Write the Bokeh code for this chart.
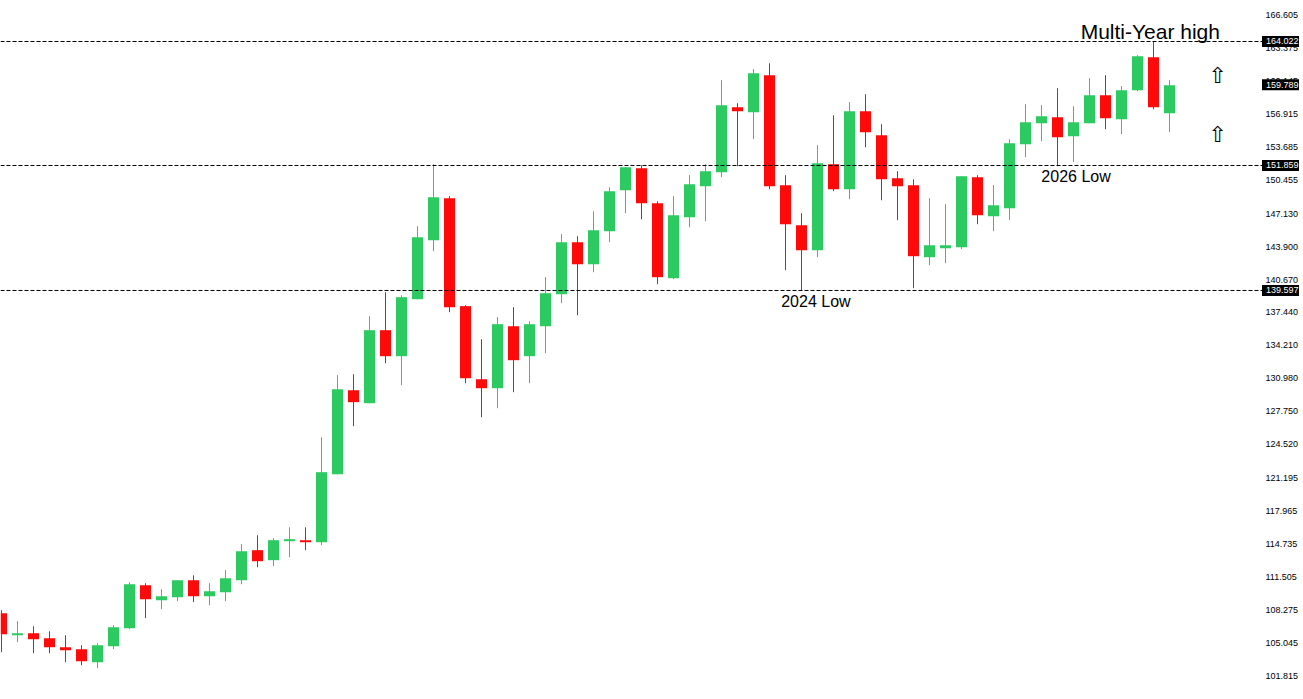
from bokeh.plotting import figure
from bokeh.models import Range1d, FixedTicker, NumeralTickFormatter, ColumnDataSource
from bokeh.core.properties import value
from bokeh.embed import file_html
from bokeh.resources import INLINE

opens = [107.94,105.78,105.98,105.49,104.60,104.41,103.13,104.70,106.46,110.68,109.21,109.51,111.17,109.61,110.00,111.17,114.12,113.14,115.00,115.10,
114.90,121.57,129.81,128.54,135.70,133.15,138.74,144.53,148.65,138.06,130.89,130.01,136.09,133.15,136.09,139.23,144.33,142.17,145.41,149.43,
151.59,148.16,140.80,146.79,149.83,151.20,157.58,157.09,160.72,149.93,146.00,143.55,151.99,149.53,157.19,154.83,150.61,149.93,142.86,143.74,
143.84,150.71,146.88,147.67,153.95,156.01,156.60,154.73,156.01,158.75,156.40,159.24,162.48,156.99]
highs = [108.23,107.15,106.66,106.17,105.78,104.80,104.99,106.76,110.98,110.88,110.29,111.17,111.66,110.88,112.16,114.71,115.59,115.30,116.37,116.37,
125.20,131.29,131.38,137.07,139.43,139.13,145.90,151.99,148.85,138.15,134.82,136.98,137.96,136.58,140.90,145.12,144.92,147.37,149.73,151.69,
151.89,148.35,148.85,150.91,151.99,160.23,157.97,161.31,161.89,150.91,147.18,153.85,156.79,158.07,158.85,155.91,151.30,150.51,148.65,148.06,
150.81,150.91,149.93,154.44,157.87,157.77,159.44,157.67,160.42,160.72,159.64,162.68,164.05,160.23]
lows = [104.11,105.09,104.01,104.01,103.13,102.84,102.54,104.41,106.37,107.45,108.33,109.11,109.02,108.72,109.11,110.78,112.45,112.55,113.43,114.12,
114.61,121.57,126.28,128.54,132.46,130.30,138.74,143.45,137.47,130.50,127.17,128.05,129.62,130.50,133.44,138.35,137.17,141.39,144.33,147.18,
146.59,140.21,140.70,145.80,146.39,150.71,151.79,154.44,149.53,141.59,139.62,142.86,149.34,148.55,153.65,148.45,146.49,139.82,142.07,142.27,
143.65,146.10,145.41,146.49,152.67,154.24,151.79,152.18,156.01,155.42,154.93,159.15,157.38,155.13]
closes = [105.87,105.98,105.39,104.60,104.31,103.23,104.80,106.56,110.78,109.31,109.61,111.17,109.61,110.10,111.37,114.02,113.04,115.10,115.20,114.90,
121.77,129.91,128.64,135.70,133.15,138.94,144.82,148.75,137.96,130.99,130.01,136.29,132.76,136.29,139.33,144.33,142.17,145.51,149.34,151.69,
148.16,140.90,146.98,150.02,151.30,157.77,157.19,160.91,149.83,146.10,143.55,152.08,149.53,157.19,155.13,150.51,149.83,142.96,144.04,144.04,
150.81,146.98,147.96,154.05,156.11,156.69,154.63,156.11,158.75,156.50,159.24,162.58,157.58,159.74]

tick_values = [166.605,163.375,160.145,156.915,153.685,150.455,147.130,143.900,140.670,137.440,134.210,130.980,127.750,124.520,
               121.195,117.965,114.735,111.505,108.275,105.045,101.815]
levels = [164.022,151.859,139.597]
tags = [164.022,159.789,151.859,139.597]
note_texts = ["Multi-Year high","2024 Low","2026 Low"]
note_x = [71.8,50.9,67.16]
note_y = [165.03,138.55,150.81]
note_sizes = ["21px","16px","16px"]
arrow_x = [76,76]
arrow_y = [160.72,154.93]

GREEN = "#2DCA62"
RED = "#FF0A0A"
n = len(opens)
xs = list(range(n))
cols = [GREEN if c >= o else RED for o, c in zip(opens, closes)]
src = ColumnDataSource(dict(x=xs, high=highs, low=lows,
                            top=[max(o, c) for o, c in zip(opens, closes)],
                            bottom=[min(o, c) for o, c in zip(opens, closes)],
                            color=cols))

PX = 1 / 16  # one screen pixel in x-data units
p = figure(frame_width=1303, frame_height=699, output_backend="svg", toolbar_location=None,
           x_range=Range1d(-PX, 1302 * PX), y_range=Range1d(99.472, 168.044),
           y_axis_location="right", min_border_left=0, min_border_right=0,
           min_border_top=0, min_border_bottom=0, background_fill_color="white",
           border_fill_color="white")
p.outline_line_color = None
p.grid.visible = False
p.xaxis.visible = False
ax = p.yaxis[0]
ax.ticker = FixedTicker(ticks=tick_values)
ax.formatter = NumeralTickFormatter(format="0.000")
ax.axis_line_color = None
ax.major_tick_line_color = None
ax.minor_tick_line_color = None
ax.major_tick_in = 0
ax.major_tick_out = 0
ax.minor_tick_in = 0
ax.minor_tick_out = 0
ax.major_label_standoff = -38
ax.major_label_text_font = "Liberation Sans"
ax.major_label_text_font_size = "9px"
ax.major_label_text_color = "black"

p.segment("x", "low", "x", "high", source=src, line_color="color", line_width=1)
p.vbar("x", 11 * PX, "top", "bottom", source=src, fill_color="color", line_color=None)

line_end = 1261 * PX
p.segment([-PX] * len(levels), levels, [line_end] * len(levels), levels,
          line_color="black", line_width=1, line_dash="4 2")

for t, xx, yy, fs in zip(note_texts, note_x, note_y, note_sizes):
    p.text([xx], [yy], text=[t], text_font=value("Liberation Sans"), text_font_size=value(fs),
           text_color="black", text_align="center", text_baseline="middle")

p.text(arrow_x, arrow_y, text=["\u21e7"] * len(arrow_x), text_font=value("DejaVu Sans"),
       text_font_size=value("22px"), text_color="black", text_align="center", text_baseline="middle")

tag_x = [1279 * PX] * len(tags)
text_x = [1264.5 * PX] * len(tags)
p.rect(tag_x, tags, width=37 * PX, height=11, height_units="screen",
       fill_color="black", line_color=None, level="overlay")
p.text(text_x, tags, text=[f"{t:.3f}" for t in tags], text_font=value("Liberation Sans"),
       text_font_size=value("9px"), text_color="white", text_align="left",
       text_baseline="middle", level="overlay")

open("out.html", "w").write(file_html(p, INLINE))
